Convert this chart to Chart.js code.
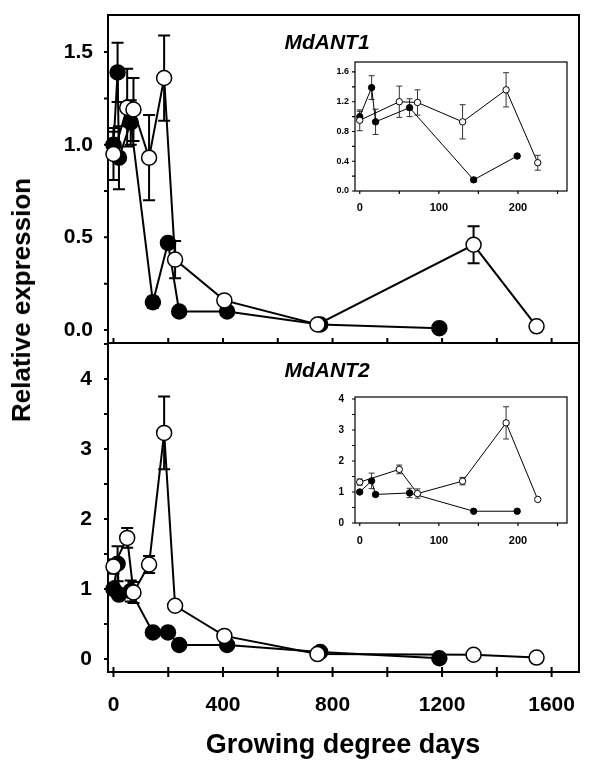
<!DOCTYPE html>
<html>
<head>
<meta charset="utf-8">
<script src="https://cdn.jsdelivr.net/npm/chart.js@4/dist/chart.umd.min.js"></script>
<style>
  body { margin: 0; background: #fff; }
  #wrap { position: relative; width: 600px; height: 765px; overflow: hidden; font-family: "Liberation Sans", Arial, sans-serif; }
  canvas { position: absolute; }
  .lbl { position: absolute; transform: translate(-50%, -50%); white-space: nowrap; line-height: 1; font-weight: bold; color: #000; }
</style>
</head>
<body>
<div id="wrap">
  <canvas id="mainTop" width="600" height="345" style="left:0px;top:0px"></canvas>
  <canvas id="mainBot" width="600" height="429" style="left:0px;top:336px"></canvas>
  <canvas id="insetTop" width="250" height="160" style="left:325px;top:55px"></canvas>
  <canvas id="insetBot" width="250" height="160" style="left:325px;top:390px"></canvas>
  <div class="lbl" style="left:327px;top:41px;font-size:21px;font-style:italic">MdANT1</div>
  <div class="lbl" style="left:327px;top:369px;font-size:21px;font-style:italic">MdANT2</div>
  <div class="lbl" style="left:21px;top:300px;font-size:26px;transform:translate(-50%,-50%) rotate(-90deg)">Relative expression</div>
  <div class="lbl" style="left:343px;top:744px;font-size:27px">Growing degree days</div>
</div>
<script>
// growing degree days of each sampling
const gddBlack = [0, 15, 20, 63, 144, 199, 240, 415, 755, 1190];
const gddWhite = [0, 50, 73, 130, 185, 225, 405, 745, 1315, 1545];

// MdANT1
const ant1Black = [1.0, 1.39, 0.93, 1.12, 0.15, 0.47, 0.10, 0.10, 0.03, 0.01];
const ant1BlackErr = [0.07, 0.16, 0.17, 0.12, 0.03, 0, 0, 0, 0, 0];
const ant1White = [0.95, 1.20, 1.19, 0.93, 1.36, 0.38, 0.16, 0.03, 0.46, 0.02];
const ant1WhiteErr = [0.14, 0.21, 0.17, 0.23, 0.23, 0.10, 0, 0, 0.10, 0];

// MdANT2
const ant2Black = [1.0, 1.36, 0.92, 0.97, 0.38, 0.38, 0.20, 0.20, 0.10, 0.01];
const ant2BlackErr = [0.05, 0.25, 0.05, 0.15, 0, 0, 0, 0, 0, 0];
const ant2White = [1.32, 1.73, 0.95, 1.35, 3.23, 0.76, 0.33, 0.07, 0.06, 0.02];
const ant2WhiteErr = [0.10, 0.14, 0.15, 0.12, 0.52, 0, 0, 0, 0, 0];

// inset shows the first samplings only
const insetCount = 6;

const FONT = '"Liberation Sans", Arial, sans-serif';

const framePlugin = {
    id: 'frame',
    beforeDatasetsDraw(chart, args, o) {
        const { ctx, chartArea: a } = chart;
        const xs = chart.scales.x, ys = chart.scales.y;
        ctx.save();
        ctx.strokeStyle = '#000';
        ctx.lineWidth = o.lw;
        ctx.strokeRect(a.left, a.top, a.right - a.left, a.bottom - a.top);
        ctx.beginPath();
        xs.ticks.forEach(t => {
            const p = xs.getPixelForValue(t.value);
            ctx.moveTo(p, a.bottom - o.xIn);
            ctx.lineTo(p, a.bottom + o.xOut);
        });
        ys.ticks.forEach(t => {
            const p = ys.getPixelForValue(t.value);
            ctx.moveTo(a.left - o.yOut, p);
            ctx.lineTo(a.left + o.yIn, p);
        });
        ctx.stroke();
        ctx.restore();
    }
};

const errPlugin = {
    id: 'errbars',
    beforeDatasetsDraw(chart, args, o) {
        const ctx = chart.ctx, ys = chart.scales.y;
        ctx.save();
        ctx.strokeStyle = o.color;
        ctx.lineWidth = o.lw;
        chart.data.datasets.forEach((ds, i) => {
            chart.getDatasetMeta(i).data.forEach((el, j) => {
                const e = ds.err[j];
                if (!e) return;
                const v = ds.data[j].y;
                const y1 = ys.getPixelForValue(v + e), y2 = ys.getPixelForValue(v - e);
                ctx.beginPath();
                ctx.moveTo(el.x, y1); ctx.lineTo(el.x, y2);
                ctx.moveTo(el.x - o.cap, y1); ctx.lineTo(el.x + o.cap, y1);
                ctx.moveTo(el.x - o.cap, y2); ctx.lineTo(el.x + o.cap, y2);
                ctx.stroke();
            });
        });
        ctx.restore();
    }
};

function series(xs, ys, errs, filled, big, n) {
    return {
        data: xs.slice(0, n).map((x, i) => ({ x: x, y: ys[i] })),
        err: errs.slice(0, n),
        showLine: true,
        borderColor: '#000',
        borderWidth: big ? 2 : 1,
        pointRadius: big ? 7.5 : 3.2,
        pointBorderWidth: big ? 1.5 : 1,
        pointBackgroundColor: filled ? '#000' : '#fff',
        pointBorderColor: '#000',
        clip: false
    };
}

function makeChart(id, cfg) {
    const nearly = (v, step) => Math.abs(v / step - Math.round(v / step)) < 1e-6;
    return new Chart(document.getElementById(id), {
        type: 'scatter',
        data: {
            // open circles first so they sit on top
            datasets: [
                series(gddWhite, cfg.white, cfg.whiteErr, false, cfg.big, cfg.n),
                series(gddBlack, cfg.black, cfg.blackErr, true, cfg.big, cfg.n)
            ]
        },
        options: {
            responsive: false,
            animation: false,
            events: [],
            layout: { padding: cfg.pad, autoPadding: false },
            plugins: {
                legend: { display: false },
                tooltip: { enabled: false },
                frame: cfg.frame,
                errbars: cfg.err
            },
            scales: {
                x: {
                    type: 'linear',
                    min: cfg.xMin, max: cfg.xMax,
                    grid: { display: false, drawTicks: false },
                    border: { display: false },
                    ticks: {
                        display: cfg.xLabels,
                        stepSize: cfg.xStep,
                        includeBounds: false,
                        autoSkip: false,
                        maxRotation: 0,
                        padding: cfg.xPad,
                        color: '#000',
                        font: { family: FONT, size: cfg.xFont, weight: 'bold' },
                        callback: v => nearly(v, cfg.xLabelStep) ? String(Math.round(v)) : ''
                    },
                    afterFit: s => {
                        s.height = cfg.xHeight;
                        s.paddingLeft = 0; s.paddingRight = 0;
                    }
                },
                y: {
                    type: 'linear',
                    min: cfg.yMin, max: cfg.yMax,
                    grid: { display: false, drawTicks: false },
                    border: { display: false },
                    ticks: {
                        stepSize: cfg.yStep,
                        includeBounds: false,
                        autoSkip: false,
                        padding: cfg.yPad,
                        color: '#000',
                        font: { family: FONT, size: cfg.yFont, weight: 'bold' },
                        callback: v => nearly(v, cfg.yLabelStep) ? v.toFixed(cfg.yDec) : ''
                    },
                    afterFit: s => {
                        s.width = cfg.yWidth;
                        s.paddingTop = 0; s.paddingBottom = 0;
                    }
                }
            }
        },
        plugins: [framePlugin, errPlugin]
    });
}

const mainFrameTop = { lw: 2, xIn: 5, xOut: 0, yIn: 0, yOut: 4 };
const mainFrameBot = { lw: 2, xIn: 5, xOut: 5, yIn: 0, yOut: 4 };
const mainErr = { lw: 2, cap: 6, color: '#000' };
const insetFrame = { lw: 1.2, xIn: 0, xOut: 3, yIn: 0, yOut: 3 };
const insetErr = { lw: 1, cap: 3, color: '#333' };

makeChart('mainTop', {
    white: ant1White, whiteErr: ant1WhiteErr, black: ant1Black, blackErr: ant1BlackErr,
    big: true, n: gddBlack.length,
    pad: { left: 0, top: 15, right: 21, bottom: 0 },
    xMin: -20, xMax: 1700, xStep: 200, xLabelStep: 400, xLabels: false, xPad: 0, xFont: 21, xHeight: 2,
    yMin: -0.07, yMax: 1.70, yStep: 0.25, yLabelStep: 0.5, yDec: 1, yPad: 15, yFont: 21, yWidth: 108,
    frame: mainFrameTop, err: mainErr
});

makeChart('mainBot', {
    white: ant2White, whiteErr: ant2WhiteErr, black: ant2Black, blackErr: ant2BlackErr,
    big: true, n: gddBlack.length,
    pad: { left: 0, top: 7, right: 21, bottom: 0 },
    xMin: -20, xMax: 1700, xStep: 200, xLabelStep: 400, xLabels: true, xPad: 21, xFont: 21, xHeight: 93,
    yMin: -0.186, yMax: 4.514, yStep: 0.5, yLabelStep: 1, yDec: 0, yPad: 16, yFont: 21, yWidth: 108,
    frame: mainFrameBot, err: mainErr
});

makeChart('insetTop', {
    white: ant1White, whiteErr: ant1WhiteErr, black: ant1Black, blackErr: ant1BlackErr,
    big: false, n: insetCount,
    pad: { left: 0, top: 7, right: 8, bottom: 0 },
    xMin: -6, xMax: 262, xStep: 50, xLabelStep: 100, xLabels: true, xPad: 10, xFont: 11, xHeight: 24,
    yMin: 0, yMax: 1.734, yStep: 0.2, yLabelStep: 0.4, yDec: 1, yPad: 6, yFont: 9, yWidth: 30,
    frame: insetFrame, err: insetErr
});

makeChart('insetBot', {
    white: ant2White, whiteErr: ant2WhiteErr, black: ant2Black, blackErr: ant2BlackErr,
    big: false, n: insetCount,
    pad: { left: 0, top: 7, right: 8, bottom: 0 },
    xMin: -6, xMax: 262, xStep: 50, xLabelStep: 100, xLabels: true, xPad: 11, xFont: 11, xHeight: 27,
    yMin: 0, yMax: 4.065, yStep: 0.5, yLabelStep: 1, yDec: 0, yPad: 11, yFont: 10, yWidth: 30,
    frame: insetFrame, err: insetErr
});
</script>
</body>
</html>
